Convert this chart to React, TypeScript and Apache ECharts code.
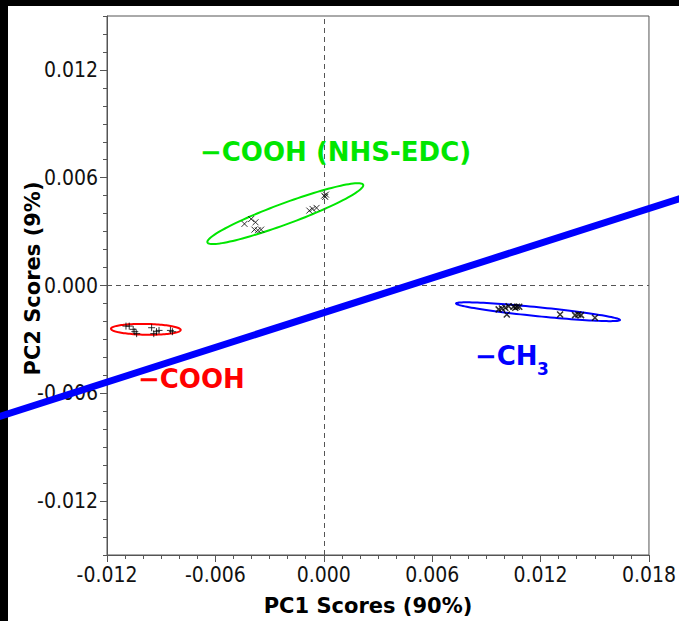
import { useEffect, useRef } from "react";
import * as echarts from "echarts";

// ---- data (PC1, PC2 scores) ----
const coohPoints: number[][] = [
  [-0.01095, -0.00226], [-0.01077, -0.00226], [-0.01055, -0.00244], [-0.01046, -0.00257],
  [-0.01036, -0.00268], [-0.00953, -0.00235], [-0.00941, -0.00268], [-0.00926, -0.00257],
  [-0.00912, -0.0025], [-0.00849, -0.0025], [-0.00838, -0.00257],
];
const nhsPoints: number[][] = [
  [-0.00439, 0.00343], [-0.00402, 0.0037], [-0.00378, 0.00352], [-0.00384, 0.00311],
  [-0.00365, 0.00307], [-0.00347, 0.00311], [-0.0008, 0.00417], [-0.00062, 0.00426],
  [-0.0004, 0.00432], [0.00002, 0.005], [0.00012, 0.00506], [0.00008, 0.00493],
];
const ch3Points: number[][] = [
  [0.00968, -0.00133], [0.00986, -0.00128], [0.01005, -0.00124], [0.01013, -0.00161],
  [0.01023, -0.00115], [0.0105, -0.00118], [0.0106, -0.00124], [0.01069, -0.00118],
  [0.01082, -0.00118], [0.01308, -0.00161], [0.01391, -0.00165], [0.01409, -0.00161],
  [0.01424, -0.00165], [0.01501, -0.00179],
];
// confidence ellipses: [centerX, centerY, semiMajor, semiMinor, angleDeg]
const ellipses: number[][] = [
  [-0.00985, -0.00244, 0.00193, 0.0003, -1],
  [-0.00213, 0.004, 0.0046, 0.00058, 20.4],
  [0.01186, -0.00146, 0.00456, 0.00025, -5.8],
];
const ellipseColors = ["#ff0000", "#00e600", "#0000ff"];
// separating line endpoints [x1, y1, x2, y2]
const sepLine: number[][] = [[-0.0185, -0.00747, 0.0205, 0.00509]];
const xMin = -0.012, xMax = 0.018, yMin = -0.015, yMax = 0.015;
const minorStep = 0.001;
const xMajorTicks = [-0.012, -0.006, 0, 0.006, 0.012, 0.018];
const yMajorTicks = [-0.012, -0.006, 0, 0.006, 0.012];
const xTitle = "PC1 Scores (90%)";
const yTitle = "PC2 Scores (9%)";

const tickFmt = (v: number) => {
  const k = Math.round(v * 1000);
  return k % 6 === 0 ? (k / 1000).toFixed(3) : "";
};

const plusSym = "path://M0,5L10,5M5,0L5,10";
const crossSym = "path://M0,0L10,10M0,10L10,0";

export default function App() {
  const ref = useRef<HTMLDivElement>(null);
  useEffect(() => {
    const chart = echarts.init(ref.current!, null, { renderer: "svg" });
    const font = "DejaVu Sans";
    const tickFont = '"DejaVu Sans Condensed", "DejaVu Sans"';
    const axisCommon = (name: string) => ({
      type: "value" as const,
      interval: minorStep,
      name,
      nameLocation: "middle" as const,
      nameMoveOverlap: false,
      axisLine: { show: true, onZero: false, lineStyle: { color: "#555", width: 1 } },
      axisTick: { show: true, length: 4, lineStyle: { color: "#555", width: 1 } },
      axisLabel: {
        formatter: tickFmt,
        fontFamily: tickFont,
        fontSize: 21,
        color: "#111",
        margin: 9,
        showMinLabel: true,
        showMaxLabel: true,
      },
      splitLine: { show: false },
    });
    const majorAxis = (values: number[]) => ({
      type: "value" as const,
      gridIndex: 0,
      axisLine: { show: false, onZero: false },
      axisTick: { show: true, length: 7, customValues: values, lineStyle: { color: "#555", width: 1 } },
      axisLabel: { show: false },
      splitLine: { show: false },
    });
    const scatterStyle = {
      color: "transparent",
      borderColor: "#000",
      borderWidth: 1,
    };
    chart.setOption({
      animation: false,
      backgroundColor: "#fff",
      grid: {
        left: 107,
        right: 28,
        top: 16,
        bottom: 64,
        show: true,
        borderColor: "#555",
        borderWidth: 1,
        backgroundColor: "transparent",
      },
      xAxis: [
        {
          ...axisCommon(xTitle),
          min: xMin,
          max: xMax,
          nameGap: 40,
          nameTextStyle: {
            fontFamily: font,
            fontWeight: "bold",
            fontSize: 21,
            color: "#000",
            padding: [0, 20, 0, 0],
          },
        },
        { ...majorAxis(xMajorTicks), min: xMin, max: xMax, position: "bottom" },
      ],
      yAxis: [
        {
          ...axisCommon(yTitle),
          min: yMin,
          max: yMax,
          nameGap: 64,
          nameTextStyle: {
            fontFamily: font,
            fontWeight: "bold",
            fontSize: 21,
            color: "#000",
            padding: [0, 0, 0, 14],
          },
        },
        { ...majorAxis(yMajorTicks), min: yMin, max: yMax, position: "left" },
      ],
      graphic: [
        { type: "rect", z: 0, shape: { x: 0, y: 0, width: 679, height: 6 }, style: { fill: "#000" } },
        { type: "rect", z: 0, shape: { x: 0, y: 0, width: 8, height: 621 }, style: { fill: "#000" } },
        {
          type: "text", z: 10, left: 200, top: 139,
          style: { text: "−COOH (NHS-EDC)", fill: "#00e600", font: `bold 26px "${font}"` },
        },
        {
          type: "text", z: 10, left: 138, top: 366,
          style: { text: "−COOH", fill: "#ff0000", font: `bold 26px "${font}"` },
        },
        {
          type: "text", z: 10, left: 475, top: 343,
          style: { text: "−CH", fill: "#0000ff", font: `bold 26px "${font}"` },
        },
        {
          type: "text", z: 10, left: 537, top: 360,
          style: { text: "3", fill: "#0000ff", font: `bold 17px "${font}"` },
        },
      ],
      series: [
        {
          type: "custom",
          name: "ellipses",
          data: ellipses,
          encode: { x: 0, y: 1 },
          z: 3,
          renderItem: (params: any, api: any) => {
            const cx = api.value(0), cy = api.value(1);
            const a = api.value(2), b = api.value(3);
            const th = (api.value(4) * Math.PI) / 180;
            const pts: number[][] = [];
            for (let i = 0; i < 120; i++) {
              const t = (i / 120) * Math.PI * 2;
              const x = cx + a * Math.cos(th) * Math.cos(t) - b * Math.sin(th) * Math.sin(t);
              const y = cy + a * Math.sin(th) * Math.cos(t) + b * Math.cos(th) * Math.sin(t);
              pts.push(api.coord([x, y]));
            }
            return {
              type: "polygon",
              shape: { points: pts },
              style: { fill: "none", stroke: ellipseColors[params.dataIndex], lineWidth: 2 },
            };
          },
        },
        {
          type: "scatter",
          name: "-COOH",
          data: coohPoints,
          symbol: plusSym,
          symbolSize: 7,
          itemStyle: scatterStyle,
          z: 4,
        },
        {
          type: "scatter",
          name: "-COOH (NHS-EDC)",
          data: nhsPoints,
          symbol: crossSym,
          symbolSize: 6,
          itemStyle: scatterStyle,
          z: 4,
        },
        {
          type: "scatter",
          name: "-CH3",
          data: ch3Points,
          symbol: crossSym,
          symbolSize: 6,
          itemStyle: { ...scatterStyle, borderWidth: 1.5 },
          z: 4,
          markLine: {
            silent: true,
            symbol: "none",
            label: { show: false },
            lineStyle: { type: [5, 4], color: "#555", width: 1 },
            data: [{ xAxis: 0 }, { yAxis: 0 }],
          },
        },
        {
          type: "custom",
          name: "separator",
          data: sepLine,
          encode: { x: [0, 2], y: [1, 3] },
          clip: false,
          z: 6,
          renderItem: (_params: any, api: any) => {
            const p1 = api.coord([api.value(0), api.value(1)]);
            const p2 = api.coord([api.value(2), api.value(3)]);
            return {
              type: "line",
              shape: { x1: p1[0], y1: p1[1], x2: p2[0], y2: p2[1] },
              style: { stroke: "#0000ff", lineWidth: 7 },
            };
          },
        },
      ],
    });
    return () => chart.dispose();
  }, []);
  return (
    <div
      ref={ref}
      style={{ position: "fixed", left: 0, top: 0, width: 679, height: 621 }}
    />
  );
}
